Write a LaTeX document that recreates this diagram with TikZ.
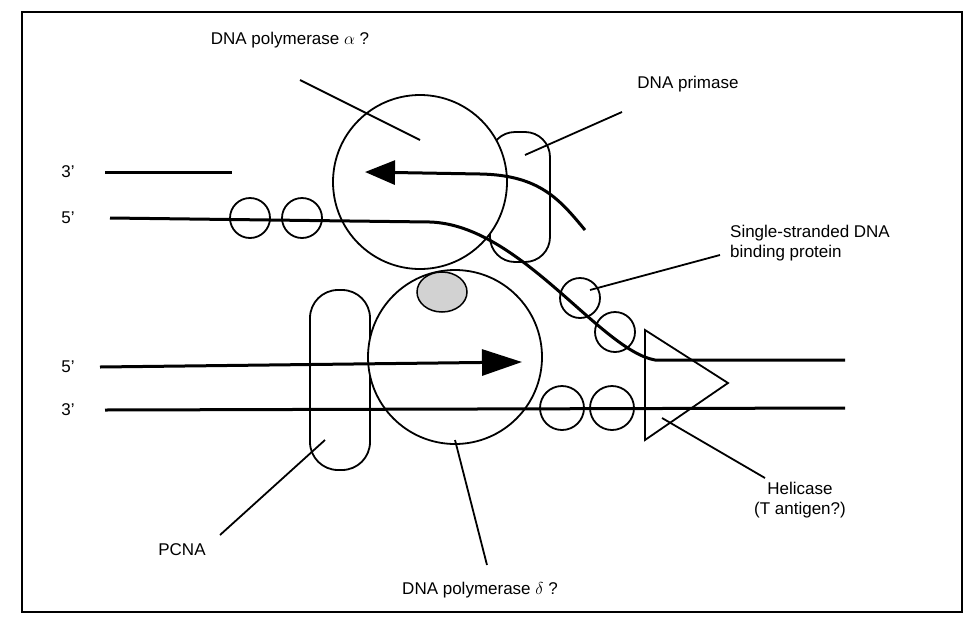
\documentclass[tikz,border=0pt]{standalone}
\usepackage{fontspec}
\setmainfont{Liberation Sans}
\usetikzlibrary{arrows.meta,shapes.geometric}
\begin{document}
\begin{tikzpicture}[x=1pt,y=-1pt,
  strand/.style={line width=3pt},
  prot/.style={draw,line width=1.8pt,fill=white},
  lead/.style={line width=1.8pt},
  lbl/.style={font=\fontsize{17}{20}\selectfont}]
\useasboundingbox (0,0) rectangle (974,640);
\draw[line width=2pt] (22,12) rectangle (962,612);
% top strands
\node[lbl] (t3) at (68,172) {3'};
\node[lbl] (t5) at (68,218) {5'};
\coordinate (a1) at (105,172); \coordinate (a2) at (232,172);
\draw[strand] (a1) -- (a2);
\coordinate (b1) at (110,218); \coordinate (b2) at (845,360);
% proteins on top
\node[prot,circle,minimum size=40pt,inner sep=0pt] (s1) at (250,218) {};
\node[prot,circle,minimum size=40pt,inner sep=0pt] (s2) at (302,218) {};
\node[prot,rounded corners=25pt,minimum width=60pt,minimum height=130pt] (prim) at (520,197) {};
\node[prot,circle,minimum size=174pt,inner sep=0pt] (pa) at (420,182) {};
\node[prot,circle,minimum size=40pt,inner sep=0pt] (s3) at (580,298) {};
\node[prot,circle,minimum size=40pt,inner sep=0pt] (s4) at (615,332) {};
% bottom
\node[prot,rounded corners=28pt,minimum width=60pt,minimum height=180pt] (pcna) at (340,380) {};
\node[prot,circle,minimum size=174pt,inner sep=0pt] (pd) at (455,357) {};
\node[draw,line width=1.5pt,ellipse,minimum width=50pt,minimum height=40pt,fill=gray!35] (g) at (442,292) {};
\node[prot,circle,minimum size=44pt,inner sep=0pt] (s5) at (562,408) {};
\node[prot,circle,minimum size=44pt,inner sep=0pt] (s6) at (612,408) {};
\coordinate (h1) at (645,330); \coordinate (h2) at (728,383); \coordinate (h3) at (645,440);
\draw[line width=1.8pt,fill=white] (h1) -- (h2) -- (h3) -- cycle;
% strands
\draw[strand] (b1) -- (430,222) .. controls (520,225) and (600,350) .. (655,360) -- (b2);
\coordinate (c1) at (585,230);
\draw[strand,-{Triangle[length=30pt,width=24pt]}] (c1) .. controls (560,200) and (540,175) .. (480,174) -- (365,172);
\node[lbl] (b5) at (68,367) {5'};
\node[lbl] (b3) at (68,410) {3'};
\coordinate (d1) at (100,367); \coordinate (d2) at (522,362);
\draw[strand,-{Triangle[length=40pt,width=26pt]}] (d1) -- (d2);
\coordinate (e1) at (105,410); \coordinate (e2) at (845,408);
\draw[strand] (e1) -- (e2);
% labels
\node[lbl] (la) at (290,40) {DNA polymerase $\alpha$ ?};
\draw[lead] (300,80) -- (420,140);
\node[lbl] (lp) at (688,84) {DNA primase};
\draw[lead] (622,112) -- (525,155);
\node[lbl,align=left] (ls) at (810,243) {Single-stranded DNA\\binding protein};
\draw[lead] (720,255) -- (590,290);
\node[lbl,align=center] (lh) at (800,500) {Helicase\\(T antigen?)};
\draw[lead] (765,478) -- (662,418);
\node[lbl] (lc) at (182,550) {PCNA};
\draw[lead] (220,535) -- (325,440);
\node[lbl] (ld) at (480,590) {DNA polymerase $\delta$ ?};
\draw[lead] (487,565) -- (455,440);
\end{tikzpicture}
\end{document}
